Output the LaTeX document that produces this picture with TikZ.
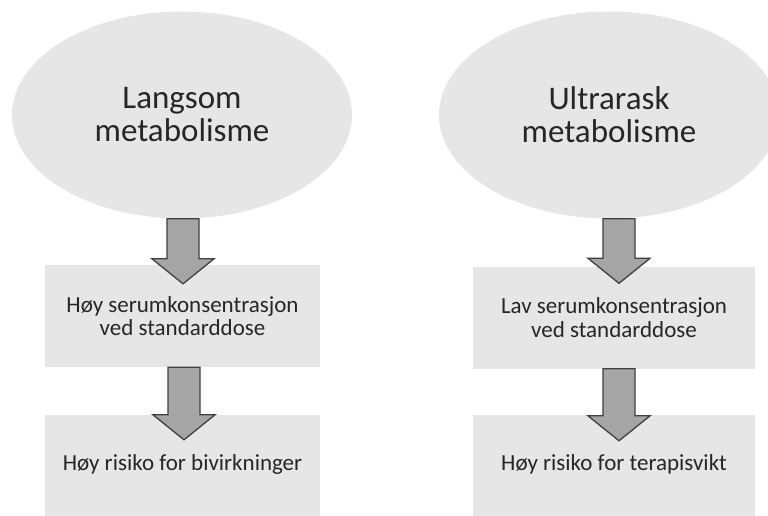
\documentclass[tikz,border=0pt]{standalone}
\usepackage{fontspec}
\setmainfont{Carlito}
\usetikzlibrary{shapes.geometric,calc}
\definecolor{boxgray}{HTML}{E6E6E6}
\definecolor{arrgray}{HTML}{A5A5A5}
\definecolor{arredge}{HTML}{404040}
\definecolor{txt}{HTML}{262626}
\tikzset{
  ell/.style={ellipse, fill=boxgray, inner sep=0pt, minimum width=340, minimum height=207,
    align=center, text=txt, font=\fontsize{33}{33}\selectfont},
  stepbox/.style={rectangle, fill=boxgray, inner sep=0pt, minimum height=102,
    align=center, text=txt, font=\fontsize{23}{23.5}\selectfont},
  bigarr/.style={fill=arrgray, draw=arredge, line width=1.3pt, line join=miter},
}
\newcommand\fatarrow[3]{% #1 start anchor, #2 tip coordinate, #3 name suffix
  \coordinate (s#3) at (#2 |- #1);
  \draw[bigarr] ($(s#3)+(-16,0)$) -- ($(s#3)+(16,0)$) -- ($(#2)+(16,-25)$) -- ($(#2)+(31,-25)$)
    -- (#2) -- ($(#2)+(-31,-25)$) -- ($(#2)+(-16,-25)$) -- cycle;}
\begin{document}
\begin{tikzpicture}[x=1pt,y=-1pt]
\useasboundingbox (0,0) rectangle (768,516);
\clip (0,0) rectangle (768,516);
\fill[white] (0,0) rectangle (768,516);
% left column
\node[ell] (L1) at (182,115) {Langsom\\metabolisme};
\node[stepbox, minimum width=275] (LB1) at (182.5,316) {Høy serumkonsentrasjon\\ved standarddose};
\node[stepbox, minimum width=275] (LB2) at (182.5,466) {\strut Høy risiko for bivirkninger};
% right column
\node[ell] (R1) at (609,115) {Ultrarask\\metabolisme};
\node[stepbox, minimum width=282] (RB1) at (614,317.5) {Lav serumkonsentrasjon\\ved standarddose};
\node[stepbox, minimum width=282] (RB2) at (614,466) {\strut Høy risiko for terapisvikt};
% arrows
\coordinate (t1) at ($(LB1.north)+(0.5,19)$);
\coordinate (t2) at ($(LB2.north)+(1.5,25)$);
\coordinate (t3) at ($(RB1.north)+(5,17)$);
\coordinate (t4) at ($(RB2.north)+(5,26)$);
\fatarrow{L1.south}{t1}{a}
\fatarrow{LB1.south}{t2}{b}
\fatarrow{R1.south}{t3}{c}
\fatarrow{RB1.south}{t4}{d}
\end{tikzpicture}
\end{document}
